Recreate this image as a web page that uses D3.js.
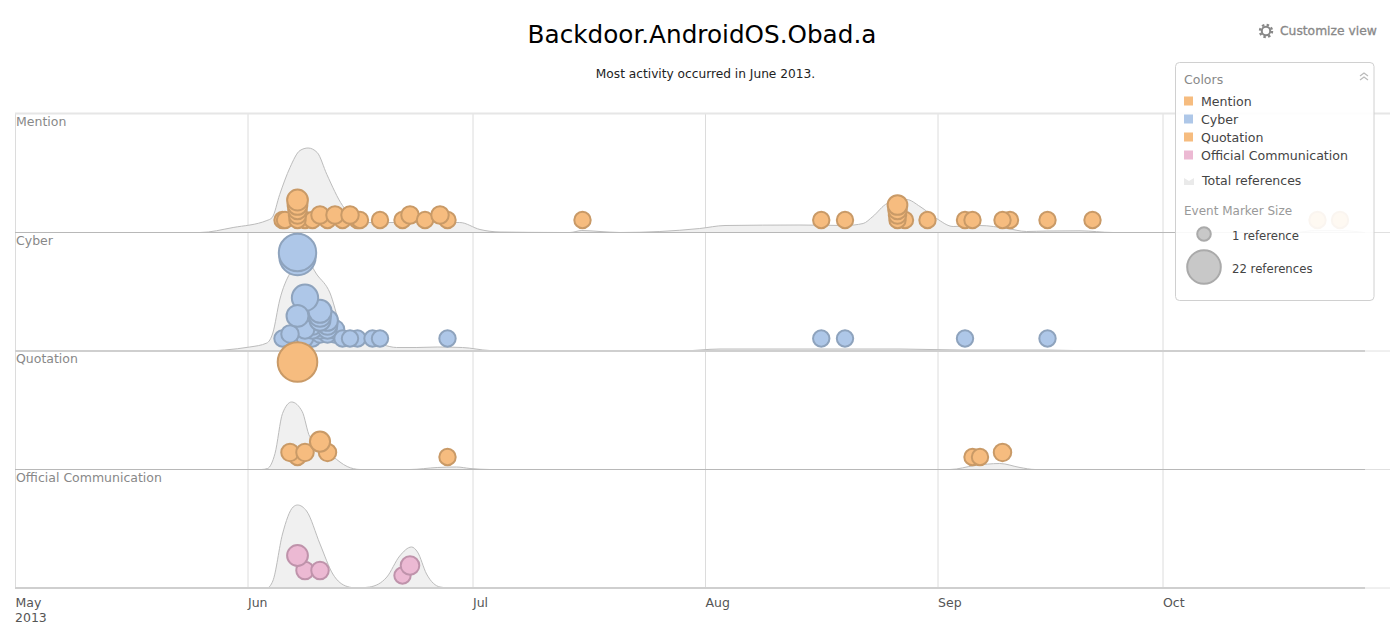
<!DOCTYPE html>
<html>
<head>
<meta charset="utf-8">
<script src="https://d3js.org/d3.v7.min.js"></script>
<style>
  html, body { margin: 0; padding: 0; background: #fff; overflow: hidden; }
  text { font-family: "DejaVu Sans", sans-serif; }
</style>
</head>
<body>
<div id="chart"></div>
<script>
// Event markers: date + number of references
const mentionDates = ["06-05T16","06-06T00","06-08T16","06-09T16","06-11T16","06-13T16","06-15T16","06-16T00","06-07T16","06-07T16","06-07T16","06-07T16","06-07T16","06-10T16","06-12T16","06-14T16","06-18T16","06-21T16","06-22T16","06-24T16","06-27T16","06-26T16","07-15T16","08-16T12","08-19T16","08-27T16","08-26T16","08-26T16","08-26T16","08-26T16","08-30T16","09-04T16","09-05T16","09-10T16","09-09T16","09-15T16","09-21T16","10-21T16","10-24T16"];
const mentionRefs = [1,1,1,1,1,1,1,1,1,2,3,4,5,2,2,2,1,1,2,1,1,2,1,1,1,1,1,2,3,4,1,1,1,1,1,1,1,1,1];

const cyberDates = ["06-07T16","06-07T16","06-05T16","06-09T16","06-08T16","06-10T16","06-12T16","06-11T16","06-10T16","06-09T16","06-09T16","06-12T16","06-11T16","06-11T16","06-11T16","06-08T16","06-06T16","06-10T16","06-10T16","06-10T16","06-08T16","06-07T16","06-13T16","06-15T16","06-14T16","06-17T16","06-18T16","06-27T16","08-16T12","08-19T16","09-04T16","09-15T16"];
const cyberRefs = [19,20,1,1,1,2,2,2,3,3,4,3,3,4,5,3,2,5,6,7,10,6,1,1,1,1,1,1,1,1,1,1];

const quotationDates = ["06-07T16","06-07T16","06-06T16","06-08T16","06-11T16","06-10T16","06-27T16","09-05T16","09-06T16","09-09T16"];
const quotationRefs = [22,1,2,2,2,4.4,1,1,1,2];

const officialDates = ["06-08T16","06-10T16","06-07T16","06-21T16","06-22T16"];
const officialRefs = [2,2,5,1,3];

// Total references curves, days since May 1 and height (0-100)
const mentionDays = [0,24.7,29.1,33.6,34.3,35.3,36.7,38,39.1,40.3,41.6,43.7,45.6,46.9,59.3,62,64.7,72.7,74,75.6,78,80.7,91.3,94.7,104.7,110.7,113.1,114.4,116.3,118.9,120.7,122.9,125.1,128.7,132.3,134.9,137.6,142,146.4,170.7,173.3,176.7,179.9];
const mentionTotals = [0,0,5,12,15,38,65,82,84.5,80,58,27,13,10,10,3,0.5,0,0,2,1,0,4,7,7.5,7,9,16,29,33,26,14,6,7,4,1,1.5,1.7,0,0,2,2,0];

const cyberDays = [0,24.7,31.3,33.6,34.4,35.3,36.7,37.6,38.9,40.3,42,43.3,44.7,49.1,50.9,53.6,56.3,59.7,63.3,67.3,88.7,94,104.7,118,126,137.6,144.7,179.9];
const cyberTotals = [0,0,4,8,18,51,78,88,90,76,58,28,14,6,3.5,3.5,4,3.5,0.5,0,0,2,2,2,1,1,0,0];

const quotationDays = [0,32.9,33.7,34.7,35.7,36.9,38.3,39.3,42.4,44.3,46,52.7,56.3,58.9,60.7,63.3,124.7,128,131.3,134,136,179.9];
const quotationTotals = [0,0,1,16,56,67.5,58,33,13,3,0,0,2,2.5,1,0,0,4,6,2,0,0];

const officialDays = [0,33.6,34.4,35.7,37.1,37.7,38.9,40.7,42.4,44.3,45.6,47.3,49.6,51.3,52.9,53.7,54.9,56.7,58,179.9];
const officialTotals = [0,0,7,54,81,83,77,44,14,1.5,0,1,11,32,41,36,14,1,0,0];

const rowNames = ["Mention","Cyber","Quotation","Official Communication"];
const monthTicks = ["2013-05-01","2013-06-01","2013-07-01","2013-08-01","2013-09-01","2013-10-01"];

function init() {
    const w = 1390;
    const h = 626;
    const left = 15;
    const right = 1365;
    const rowTop = 114;
    const rowH = 118.5;

    const parseDay = d3.utcParse("%Y-%m-%d");
    const parseEvent = d3.utcParse("%Y-%m-%dT%H");
    const start = parseDay(monthTicks[0]);

    const x = d3.scaleUtc()
        .domain([start, d3.utcDay.offset(start, 180)])
        .range([left, right]);

    // marker radius grows with the reference count
    const radius = d3.scaleLinear().domain([1, 22]).range([9.2, 20.8]);
    const legendRadius = d3.scaleLinear().domain([1, 22]).range([7.8, 17.8]);

    const rows = [
        { name: rowNames[0], dates: mentionDates, refs: mentionRefs, days: mentionDays, totals: mentionTotals, fill: "#f6bc7f", stroke: "#c99a67", yDomain: [1, 5], yRange: [12.5, 32.5], rule: 1 },
        { name: rowNames[1], dates: cyberDates, refs: cyberRefs, days: cyberDays, totals: cyberTotals, fill: "#aec7e8", stroke: "#8ea3bd", yDomain: [1, 22], yRange: [12.5, 107.5], rule: 2 },
        { name: rowNames[2], dates: quotationDates, refs: quotationRefs, days: quotationDays, totals: quotationTotals, fill: "#f6bc7f", stroke: "#c99a67", yDomain: [1, 22], yRange: [12.5, 107.5], rule: 1 },
        { name: rowNames[3], dates: officialDates, refs: officialRefs, days: officialDays, totals: officialTotals, fill: "#ecb9d3", stroke: "#bf93ab", yDomain: [1, 5], yRange: [12.5, 32.5], rule: 2 },
    ];

    const svg = d3.select("#chart")
        .append("svg")
        .attr("width", w)
        .attr("height", h)
        .style("display", "block");

    // Month gridlines
    const bottom = rowTop + rowH * rows.length;
    const ticks = monthTicks.map(parseDay);
    const grid = svg.append("g")
        .attr("transform", `translate(0,${bottom})`)
        .call(d3.axisBottom(x).tickValues(ticks).tickSize(-(bottom - rowTop)).tickFormat(""));
    grid.select(".domain").remove();
    grid.selectAll("line").attr("stroke", "#dcdcdc");

    // Top rule of the chart runs to the page edge
    svg.append("line").attr("x1", left).attr("x2", w)
        .attr("y1", rowTop - 0.5).attr("y2", rowTop - 0.5)
        .attr("stroke", "#e6e6e6").attr("stroke-width", 2);

    // Row areas first, markers after so they sit on top of the lines
    rows.forEach((row, i) => {
        const base = rowTop + rowH * (i + 1);
        const yTotal = d3.scaleLinear().domain([0, 100]).range([base, base - 100]);
        const area = d3.area()
            .x(d => x(d3.utcHour.offset(start, d[0] * 24)))
            .y0(base)
            .y1(d => yTotal(d[1]))
            .curve(d3.curveMonotoneX);
        const line = area.lineY1();
        const pts = row.days.map((d, k) => [d, row.totals[k]]);

        svg.append("path").attr("d", area(pts)).attr("fill", "#f0f0f0");
        svg.append("path").attr("d", line(pts)).attr("fill", "none").attr("stroke", "#bcbcbc").attr("stroke-width", 1);

        svg.append("line")
            .attr("x1", left).attr("x2", right)
            .attr("y1", base).attr("y2", base)
            .attr("stroke", row.rule === 2 ? "#cfcfcf" : "#b8b8b8").attr("stroke-width", row.rule === 2 ? 2 : 1);
        svg.append("line")
            .attr("x1", right).attr("x2", w)
            .attr("y1", base).attr("y2", base)
            .attr("stroke", "#e0e0e0").attr("stroke-width", 1);

        svg.append("text")
            .attr("x", 16).attr("y", base - rowH + 12)
            .attr("font-size", "12.5px").attr("fill", "#888")
            .text(row.name);
    });

    rows.forEach((row, i) => {
        const base = rowTop + rowH * (i + 1);
        const y = d3.scaleLinear().domain(row.yDomain)
            .range(row.yRange.map(v => base - v));
        svg.append("g").selectAll("circle")
            .data(row.dates.map((d, k) => ({ date: parseEvent("2013-" + d), refs: row.refs[k] })))
            .enter()
            .append("circle")
            .attr("cx", d => x(d.date))
            .attr("cy", d => y(d.refs))
            .attr("r", d => radius(d.refs) - 1)
            .attr("fill", row.fill)
            .attr("stroke", row.stroke)
            .attr("stroke-width", 2);
    });

    // Month labels
    const axis = svg.append("g")
        .attr("transform", `translate(0,${bottom})`)
        .call(d3.axisBottom(x).tickValues(ticks).tickSize(0).tickFormat(d3.utcFormat("%b")));
    axis.select(".domain").remove();
    axis.selectAll("text")
        .attr("text-anchor", "start")
        .attr("y", 19)
        .attr("dy", 0)
        .attr("font-size", "12.5px")
        .attr("font-family", '"DejaVu Sans", sans-serif')
        .attr("fill", "#555");
    svg.append("text").attr("x", left).attr("y", 622)
        .attr("font-size", "12.5px").attr("fill", "#555").text("2013");

    // Title block
    svg.append("text").attr("x", 702).attr("y", 43)
        .attr("text-anchor", "middle").attr("font-size", "24.7px").attr("fill", "#000")
        .text("Backdoor.AndroidOS.Obad.a");
    svg.append("text").attr("x", 705.5).attr("y", 78)
        .attr("text-anchor", "middle").attr("font-size", "12.2px").attr("fill", "#222")
        .text("Most activity occurred in June 2013.");

    // Customize view link with gear
    const gear = svg.append("g").attr("transform", "translate(1266,31)");
    gear.append("circle").attr("r", 4.2).attr("fill", "none").attr("stroke", "#888").attr("stroke-width", 2);
    gear.append("circle").attr("r", 6).attr("fill", "none").attr("stroke", "#888").attr("stroke-width", 2.4).attr("stroke-dasharray", "2.4 2.3");
    svg.append("text").attr("x", 1280).attr("y", 35)
        .attr("font-size", "12.3px").attr("stroke", "#888").attr("stroke-width", 0.3).attr("fill", "#888")
        .text("Customize view");

    // Legend
    const legend = svg.append("g");
    legend.append("rect")
        .attr("x", 1175.5).attr("y", 62.5).attr("width", 198.5).attr("height", 238).attr("rx", 4)
        .attr("fill", "#fff").attr("fill-opacity", 0.9).attr("stroke", "#d0d0d0");
    legend.append("text").attr("x", 1184).attr("y", 84)
        .attr("font-size", "12.5px").attr("fill", "#888").text("Colors");
    legend.append("path").attr("d", "M1360 76l4-3 4 3M1360 80l4-3 4 3")
        .attr("fill", "none").attr("stroke", "#bbb").attr("stroke-width", 1.2);

    rows.forEach((row, i) => {
        const ly = 101 + i * 18;
        legend.append("rect").attr("x", 1184).attr("y", ly - 4.5).attr("width", 9).attr("height", 9).attr("fill", row.fill);
        legend.append("text").attr("x", 1201).attr("y", ly + 4.5)
            .attr("font-size", "12.6px").attr("fill", "#444").text(row.name);
    });

    legend.append("path").attr("d", "M1184 178l5 3 5-3v7h-10z").attr("fill", "#eaeaea");
    legend.append("text").attr("x", 1202).attr("y", 185)
        .attr("font-size", "12.5px").attr("fill", "#444").text("Total references");
    legend.append("text").attr("x", 1184).attr("y", 215)
        .attr("font-size", "12px").attr("fill", "#999").text("Event Marker Size");

    [[1, 234, "1 reference"], [22, 267, "22 references"]].forEach(([refs, ly, label]) => {
        legend.append("circle").attr("cx", 1204).attr("cy", ly)
            .attr("r", legendRadius(refs) - 1)
            .attr("fill", "#c8c8c8").attr("stroke", "#aaa").attr("stroke-width", 2);
        legend.append("text").attr("x", 1232).attr("y", ly + 5.5)
            .attr("font-size", "11.7px").attr("fill", "#444").text(label);
    });
}

window.onload = init;
</script>
</body>
</html>
